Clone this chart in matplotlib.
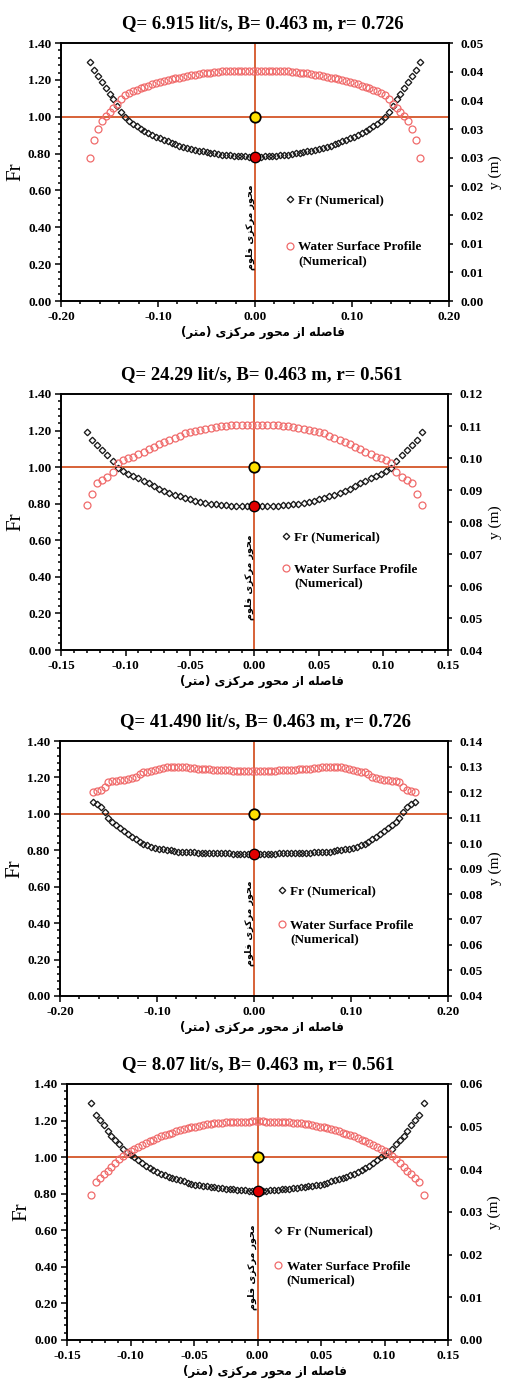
import matplotlib
matplotlib.use("Agg")
import matplotlib.pyplot as plt
from matplotlib.ticker import FixedLocator, MultipleLocator, FormatStrFormatter

# ---------------- data ----------------
# x positions are in mm from the flume centreline, Fr is dimensionless,
# y is the water depth in m (right axis)

# panel 1 : Q= 6.915 lit/s
title1 = "Q= 6.915 lit/s, B= 0.463 m, r= 0.726"
x1_mm = [-170, -166, -162, -158, -154, -150, -146, -142, -138, -134, -130,
         -126, -122, -118, -114, -110, -106, -102, -98, -94, -90, -86, -82,
         -78, -74, -70, -66, -62, -58, -54, -50, -46, -42, -38, -34, -30,
         -26, -22, -18, -14, -10, -6, -2,
         2, 6, 10, 14, 18, 22, 26, 30, 34, 38, 42, 46, 50, 54, 58, 62, 66,
         70, 74, 78, 82, 86, 90, 94, 98, 102, 106, 110, 114, 118, 122, 126,
         130, 134, 138, 142, 146, 150, 154, 158, 162, 166, 170]
fr1 = [1.300, 1.255, 1.220, 1.188, 1.158, 1.125, 1.097, 1.060, 1.025, 0.999,
       0.978, 0.962, 0.948, 0.936, 0.925, 0.914, 0.903, 0.892, 0.883, 0.874,
       0.866, 0.858, 0.851, 0.844, 0.838, 0.832, 0.826, 0.821, 0.817, 0.812,
       0.808, 0.804, 0.801, 0.798, 0.795, 0.793, 0.791, 0.789, 0.787, 0.786,
       0.785, 0.784, 0.783,
       0.783, 0.784, 0.785, 0.786, 0.787, 0.789, 0.791, 0.793, 0.795, 0.798,
       0.801, 0.804, 0.808, 0.812, 0.817, 0.821, 0.826, 0.832, 0.838, 0.844,
       0.851, 0.858, 0.866, 0.874, 0.883, 0.892, 0.903, 0.914, 0.925, 0.936,
       0.948, 0.962, 0.978, 0.999, 1.025, 1.060, 1.097, 1.125, 1.158, 1.188,
       1.220, 1.255, 1.300]
y1 = [0.02491, 0.02803, 0.03005, 0.03134, 0.03230, 0.03304, 0.03375, 0.03433,
      0.03520, 0.03603, 0.03632, 0.03658, 0.03684, 0.03709, 0.03735, 0.03758,
      0.03780, 0.03803, 0.03825, 0.03841, 0.03857, 0.03873, 0.03886, 0.03899,
      0.03912, 0.03925, 0.03938, 0.03950, 0.03960, 0.03970, 0.03979, 0.03986,
      0.03992, 0.03999, 0.04005, 0.04008, 0.04011, 0.04015, 0.04018, 0.04018,
      0.04021, 0.04021, 0.04021,
      0.04021, 0.04021, 0.04021, 0.04018, 0.04018, 0.04015, 0.04011, 0.04008,
      0.04005, 0.03999, 0.03992, 0.03986, 0.03979, 0.03970, 0.03960, 0.03950,
      0.03938, 0.03925, 0.03912, 0.03899, 0.03886, 0.03873, 0.03857, 0.03841,
      0.03825, 0.03803, 0.03780, 0.03758, 0.03735, 0.03709, 0.03684, 0.03658,
      0.03632, 0.03603, 0.03520, 0.03433, 0.03375, 0.03304, 0.03230, 0.03134,
      0.03005, 0.02803, 0.02491]
fr1_centre = 0.78
x1_ticks = [-0.20, -0.10, 0.00, 0.10, 0.20]
y1_ticks = [0.0, 0.005, 0.01, 0.015, 0.02, 0.025, 0.03, 0.035, 0.04, 0.045]
y1_labels = ["0.00", "0.01", "0.01", "0.02", "0.02", "0.03", "0.03", "0.04",
             "0.04", "0.05"]

# panel 2 : Q= 24.29 lit/s
title2 = "Q= 24.29 lit/s, B= 0.463 m, r= 0.561"
x2_mm = [-130, -126, -122, -118, -114, -110, -106, -102, -98, -94, -90, -86,
         -82, -78, -74, -70, -66, -62, -58, -54, -50, -46, -42, -38, -34,
         -30, -26, -22, -18, -14, -10, -6, -2,
         2, 6, 10, 14, 18, 22, 26, 30, 34, 38, 42, 46, 50, 54, 58, 62, 66,
         70, 74, 78, 82, 86, 90, 94, 98, 102, 106, 110, 114, 118, 122, 126,
         130]
fr2 = [1.190, 1.150, 1.122, 1.092, 1.066, 1.035, 0.997, 0.978, 0.965, 0.952,
       0.939, 0.926, 0.912, 0.896, 0.883, 0.872, 0.861, 0.849, 0.840, 0.831,
       0.824, 0.817, 0.810, 0.804, 0.799, 0.796, 0.794, 0.792, 0.790, 0.789,
       0.789, 0.788, 0.788,
       0.788, 0.788, 0.789, 0.789, 0.790, 0.792, 0.794, 0.796, 0.799, 0.804,
       0.810, 0.817, 0.824, 0.831, 0.840, 0.849, 0.861, 0.872, 0.883, 0.896,
       0.912, 0.926, 0.939, 0.952, 0.965, 0.978, 0.997, 1.035, 1.066, 1.092,
       1.122, 1.150, 1.190]
y2 = [0.08531, 0.08886, 0.09211, 0.09303, 0.09411, 0.09571, 0.09857, 0.09931,
      0.09989, 0.10040, 0.10126, 0.10200, 0.10274, 0.10354, 0.10446, 0.10514,
      0.10571, 0.10629, 0.10686, 0.10766, 0.10811, 0.10846, 0.10874, 0.10903,
      0.10937, 0.10966, 0.10989, 0.11006, 0.11017, 0.11023, 0.11029, 0.11029,
      0.11029,
      0.11029, 0.11029, 0.11029, 0.11023, 0.11017, 0.11006, 0.10989, 0.10966,
      0.10937, 0.10903, 0.10874, 0.10846, 0.10811, 0.10766, 0.10686, 0.10629,
      0.10571, 0.10514, 0.10446, 0.10354, 0.10274, 0.10200, 0.10126, 0.10040,
      0.09989, 0.09931, 0.09857, 0.09571, 0.09411, 0.09303, 0.09211, 0.08886,
      0.08531]
fr2_centre = 0.79
x2_ticks = [-0.15, -0.10, -0.05, 0.00, 0.05, 0.10, 0.15]
y2_ticks = [0.04, 0.05, 0.06, 0.07, 0.08, 0.09, 0.10, 0.11, 0.12]
y2_labels = ["0.04", "0.05", "0.06", "0.07", "0.08", "0.09", "0.10", "0.11",
             "0.12"]

# panel 3 : Q= 41.490 lit/s
title3 = "Q= 41.490 lit/s, B= 0.463 m, r= 0.726"
x3_mm = [-166, -162, -158, -154, -150, -146, -142, -138, -134, -130, -126,
         -122, -118, -114, -110, -106, -102, -98, -94, -90, -86, -82, -78,
         -74, -70, -66, -62, -58, -54, -50, -46, -42, -38, -34, -30, -26,
         -22, -18, -14, -10, -6, -2,
         2, 6, 10, 14, 18, 22, 26, 30, 34, 38, 42, 46, 50, 54, 58, 62, 66,
         70, 74, 78, 82, 86, 90, 94, 98, 102, 106, 110, 114, 118, 122, 126,
         130, 134, 138, 142, 146, 150, 154, 158, 162, 166]
fr3 = [1.065, 1.052, 1.036, 1.012, 0.977, 0.953, 0.937, 0.921, 0.905, 0.889,
       0.874, 0.860, 0.848, 0.837, 0.828, 0.820, 0.814, 0.809, 0.805, 0.802,
       0.799, 0.796, 0.793, 0.791, 0.790, 0.789, 0.788, 0.787, 0.786, 0.786,
       0.785, 0.785, 0.784, 0.784, 0.783, 0.783, 0.782, 0.782, 0.781, 0.781,
       0.780, 0.780,
       0.780, 0.780, 0.781, 0.781, 0.782, 0.782, 0.783, 0.783, 0.784, 0.784,
       0.785, 0.785, 0.786, 0.786, 0.787, 0.788, 0.789, 0.790, 0.791, 0.793,
       0.796, 0.799, 0.802, 0.805, 0.809, 0.814, 0.820, 0.828, 0.837, 0.848,
       0.860, 0.874, 0.889, 0.905, 0.921, 0.937, 0.953, 0.977, 1.012, 1.036,
       1.052, 1.065]
y3 = [0.12014, 0.12036, 0.12093, 0.12179, 0.12407, 0.12429, 0.12443, 0.12457,
      0.12479, 0.12507, 0.12543, 0.12593, 0.12714, 0.12793, 0.12800, 0.12814,
      0.12871, 0.12914, 0.12950, 0.12971, 0.12971, 0.12971, 0.12971, 0.12971,
      0.12964, 0.12950, 0.12936, 0.12921, 0.12907, 0.12900, 0.12893, 0.12879,
      0.12871, 0.12864, 0.12857, 0.12850, 0.12843, 0.12843, 0.12843, 0.12843,
      0.12843, 0.12843,
      0.12843, 0.12843, 0.12843, 0.12843, 0.12843, 0.12843, 0.12850, 0.12857,
      0.12864, 0.12871, 0.12879, 0.12893, 0.12900, 0.12907, 0.12921, 0.12936,
      0.12950, 0.12964, 0.12971, 0.12971, 0.12971, 0.12971, 0.12971, 0.12950,
      0.12914, 0.12871, 0.12814, 0.12800, 0.12793, 0.12714, 0.12593, 0.12543,
      0.12507, 0.12479, 0.12457, 0.12443, 0.12429, 0.12407, 0.12179, 0.12093,
      0.12036, 0.12014]
fr3_centre = 0.778
x3_ticks = [-0.20, -0.10, 0.00, 0.10, 0.20]
y3_ticks = [0.04, 0.05, 0.06, 0.07, 0.08, 0.09, 0.10, 0.11, 0.12, 0.13, 0.14]
y3_labels = ["0.04", "0.05", "0.06", "0.07", "0.08", "0.09", "0.10", "0.11",
             "0.12", "0.13", "0.14"]

# panel 4 : Q= 8.07 lit/s
title4 = "Q= 8.07 lit/s, B= 0.463 m, r= 0.561"
x4_mm = [-131, -127, -124, -121, -118, -115, -112, -109, -106, -103, -100,
         -97, -94, -91, -88, -85, -82, -79, -76, -73, -70, -67, -64, -61,
         -58, -55, -52, -49, -46, -43, -40, -37, -34, -31, -28, -25, -22,
         -19, -16, -13, -10, -7, -4, -1,
         1, 4, 7, 10, 13, 16, 19, 22, 25, 28, 31, 34, 37, 40, 43, 46, 49, 52,
         55, 58, 61, 64, 67, 70, 73, 76, 79, 82, 85, 88, 91, 94, 97, 100, 103,
         106, 109, 112, 115, 118, 121, 124, 127, 131]
fr4 = [1.294, 1.232, 1.205, 1.176, 1.143, 1.118, 1.094, 1.069, 1.046, 1.029,
       1.013, 0.998, 0.982, 0.966, 0.951, 0.940, 0.929, 0.917, 0.910, 0.902,
       0.893, 0.886, 0.879, 0.873, 0.867, 0.859, 0.854, 0.850, 0.846, 0.843,
       0.840, 0.837, 0.834, 0.832, 0.830, 0.828, 0.826, 0.824, 0.822, 0.820,
       0.818, 0.817, 0.816, 0.816,
       0.816, 0.816, 0.817, 0.818, 0.820, 0.822, 0.824, 0.826, 0.828, 0.830,
       0.832, 0.834, 0.837, 0.840, 0.843, 0.846, 0.850, 0.854, 0.859, 0.867,
       0.873, 0.879, 0.886, 0.893, 0.902, 0.910, 0.917, 0.929, 0.940, 0.951,
       0.966, 0.982, 0.998, 1.013, 1.029, 1.046, 1.069, 1.094, 1.118, 1.143,
       1.176, 1.205, 1.232, 1.294]
y4 = [0.03399, 0.03711, 0.03789, 0.03879, 0.03964, 0.04054, 0.04140, 0.04234,
      0.04311, 0.04371, 0.04431, 0.04487, 0.04530, 0.04573, 0.04611, 0.04654,
      0.04697, 0.04736, 0.04770, 0.04800, 0.04830, 0.04860, 0.04890, 0.04916,
      0.04937, 0.04963, 0.04984, 0.05001, 0.05019, 0.05040, 0.05053, 0.05066,
      0.05079, 0.05087, 0.05096, 0.05100, 0.05104, 0.05109, 0.05113, 0.05117,
      0.05117, 0.05117, 0.05121, 0.05121,
      0.05121, 0.05121, 0.05117, 0.05117, 0.05117, 0.05113, 0.05109, 0.05104,
      0.05100, 0.05096, 0.05087, 0.05079, 0.05066, 0.05053, 0.05040, 0.05019,
      0.05001, 0.04984, 0.04963, 0.04937, 0.04916, 0.04890, 0.04860, 0.04830,
      0.04800, 0.04770, 0.04736, 0.04697, 0.04654, 0.04611, 0.04573, 0.04530,
      0.04487, 0.04431, 0.04371, 0.04311, 0.04234, 0.04140, 0.04054, 0.03964,
      0.03879, 0.03789, 0.03711, 0.03399]
fr4_centre = 0.815
x4_ticks = [-0.15, -0.10, -0.05, 0.00, 0.05, 0.10, 0.15]
y4_ticks = [0.00, 0.01, 0.02, 0.03, 0.04, 0.05, 0.06]
y4_labels = ["0.00", "0.01", "0.02", "0.03", "0.04", "0.05", "0.06"]

fr_ticks = [0.0, 0.2, 0.4, 0.6, 0.8, 1.0, 1.2, 1.4]
fr_critical = 1.0

legend_labels = ["Fr (Numerical)", "Water Surface Profile\n(Numerical)"]
# Persian text, shaped by hand into visual order (matplotlib has no bidi):
# "محور مرکزی فلوم" and "فاصله از محور مرکزی (متر)"
centre_text = ("\uFEE1\uFEEE\uFEE0\uFED3 \uFBFC\uFEB0\uFB90\uFEAE\uFEE3 "
               "\uFEAD\uFEEE\uFEA4\uFEE3")
x_label = ("(\uFEAE\uFE98\uFEE3) \uFBFC\uFEB0\uFB90\uFEAE\uFEE3 "
           "\uFEAD\uFEEE\uFEA4\uFEE3 \uFEAF\uFE8D \uFEEA\uFEE0\uFEBB\uFE8E\uFED3")

# ---------------- style ----------------
plt.rcParams["font.family"] = ["Liberation Serif", "DejaVu Serif"]
plt.rcParams["font.weight"] = "bold"
plt.rcParams["font.size"] = 9.5
plt.rcParams["axes.linewidth"] = 1.2

ORANGE = "#D45528"
PINK = "#F06B6B"
ARABIC = ["DejaVu Sans"]


def draw_panel(rect, title, title_x, x_mm, fr, y, fr_mid, xticks, xminor,
               yticks, ylabels, leg_anchor, leg_space):
    ax = fig.add_axes(rect)
    ax2 = ax.twinx()
    x = [v / 1000 for v in x_mm]

    ax.axhline(fr_critical, color=ORANGE, lw=1.3, zorder=1)
    ax.axvline(0, color=ORANGE, lw=1.3, zorder=1)
    fr_line, = ax.plot(x, fr, ls="none", marker="D", ms=3.3, mfc="none",
                       mec="#1a1a1a", mew=0.95, zorder=3)
    ax.plot(0, fr_critical, "o", ms=7.5, mfc="#FFE100", mec="k", mew=1.3,
            zorder=5)
    ax.plot(0, fr_mid, "o", ms=7.5, mfc="#E00000", mec="k", mew=1.0,
            zorder=5)
    ws_line, = ax2.plot(x, y, ls="none", marker="o", ms=5, mfc="none",
                        mec=PINK, mew=0.9, zorder=2)

    ax.set_xlim(xticks[0], xticks[-1])
    ax.set_ylim(fr_ticks[0], fr_ticks[-1])
    ax.set_xticks(xticks)
    ax.set_yticks(fr_ticks)
    ax.xaxis.set_major_formatter(FormatStrFormatter("%.2f"))
    ax.yaxis.set_major_formatter(FormatStrFormatter("%.2f"))
    ax.xaxis.set_minor_locator(MultipleLocator(xminor))
    ax.yaxis.set_minor_locator(MultipleLocator(0.04))
    ax.tick_params(which="both", direction="out", width=1.1)
    ax.tick_params(which="major", length=4, pad=3)
    ax.tick_params(which="minor", length=2.5)

    ax2.set_ylim(yticks[0], yticks[-1])
    ax2.yaxis.set_major_locator(FixedLocator(yticks))
    ax2.set_yticklabels(ylabels)
    ax2.tick_params(axis="y", direction="out", length=3, width=1.1, pad=5)

    ax.set_title(title, x=title_x, fontsize=13.5, fontweight="bold", pad=11)
    ax.set_ylabel("Fr", fontsize=15, labelpad=2)
    ax2.set_ylabel("y (m)", fontsize=11, labelpad=4)
    ax.set_xlabel(x_label, x=0.52, family=ARABIC, weight="bold",
                  fontsize=8.6, labelpad=2)

    ax.annotate(centre_text, xy=(0, 0.40), xytext=(-3.5, 0),
                textcoords="offset points", rotation=90, ha="center",
                va="center", family=ARABIC, weight="bold", fontsize=6.8)

    leg = ax.legend([fr_line, ws_line], legend_labels, loc="upper left",
                    bbox_to_anchor=leg_anchor, frameon=False,
                    handlelength=0.7, handletextpad=0.3,
                    labelspacing=leg_space, borderpad=0, borderaxespad=0,
                    fontsize=9.5)
    # keep the marker level with the first line of a two-line label
    for column in leg._legend_handle_box.get_children():
        for row in column.get_children():
            row.align = "top"
    return ax


fig = plt.figure(figsize=(5.05, 13.81), dpi=100)

draw_panel([0.1208, 0.7820, 0.7683, 0.1868], title1, 0.52, x1_mm, fr1, y1,
           fr1_centre, x1_ticks, 0.02, y1_ticks, y1_labels, (0.578, 0.412),
           2.63)
draw_panel([0.1208, 0.5293, 0.7663, 0.1854], title2, 0.518, x2_mm, fr2, y2,
           fr2_centre, x2_ticks, 0.01, y2_ticks, y2_labels, (0.569, 0.462),
           1.5)
draw_panel([0.1188, 0.2788, 0.7683, 0.1846], title3, 0.53, x3_mm, fr3, y3,
           fr3_centre, x3_ticks, 0.02, y3_ticks, y3_labels, (0.56, 0.433),
           1.67)
draw_panel([0.1327, 0.0297, 0.7545, 0.1854], title4, 0.502, x4_mm, fr4, y4,
           fr4_centre, x4_ticks, 0.01, y4_ticks, y4_labels, (0.542, 0.449),
           1.78)

fig.savefig("out.png", dpi=100)
